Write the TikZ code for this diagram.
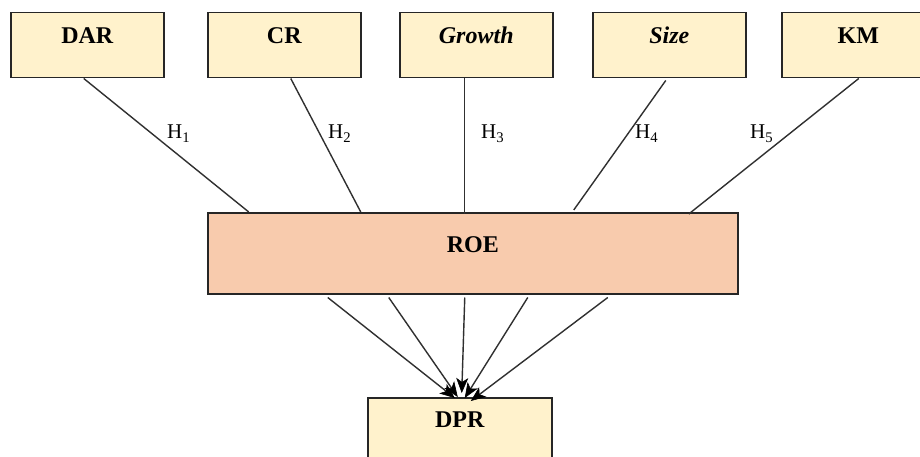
\documentclass[tikz,border=0pt]{standalone}
\usepackage{fontspec}
\setmainfont{Liberation Serif}
\usetikzlibrary{arrows.meta,calc}
\definecolor{boxyellow}{HTML}{FFF2CC}
\definecolor{boxorange}{HTML}{F8CBAD}
\definecolor{edge}{HTML}{262626}
\definecolor{linec}{HTML}{303030}
\tikzset{
  varbox/.style={draw=edge, line width=1.5pt, fill=boxyellow, inner sep=0pt,
    minimum width=153pt, minimum height=65pt, text height=31pt, text depth=34pt,
    anchor=north west, font=\fontsize{24}{27}\selectfont\bfseries},
  roebox/.style={draw=edge, line width=1.5pt, fill=boxorange, inner sep=0pt,
    minimum width=530pt, minimum height=81pt, text height=40pt, text depth=41pt,
    anchor=north west, font=\fontsize{24}{27}\selectfont\bfseries},
  dprbox/.style={draw=edge, line width=1.5pt, fill=boxyellow, inner sep=0pt,
    minimum width=184pt, minimum height=65pt, text height=30pt, text depth=35pt,
    anchor=north west, font=\fontsize{24}{27}\selectfont\bfseries},
  hlab/.style={anchor=base west, inner sep=0pt, font=\fontsize{21}{24}\selectfont},
  link/.style={draw=linec, line width=1.4pt},
  arr/.style={draw=linec, line width=1.4pt,
    -{Stealth[length=15pt,width=12pt,inset=4pt,color=black,fill=black,line width=0.6pt]}},
}
\begin{document}
\begin{tikzpicture}[x=1pt,y=-1pt]
\useasboundingbox (0,0) rectangle (920,457);
\fill[white] (0,0) rectangle (920,457);
\node[varbox] (dar) at (10,12) {DAR};
\node[varbox] (cr) at (207,12) {CR};
\node[varbox] (gro) at (399,12) {\itshape Growth};
\node[varbox] (siz) at (592,12) {\itshape Size};
\node[varbox] (km) at (781,12) {KM};
\node[roebox] (roe) at (207,212) {ROE};
\node[dprbox] (dpr) at (367,397) {DPR};
% links from predictors to ROE
\draw[link] ([xshift=-3.5pt]dar.south) -- ([xshift=-224pt]roe.north);
\draw[link] ([xshift=6.5pt]cr.south) -- ([xshift=-112pt]roe.north);
\draw[link] ([xshift=-11.5pt]gro.south) -- ([xshift=-8pt,yshift=-2pt]roe.north);
\draw[link] ([xshift=-3.5pt,yshift=-2pt]siz.south) -- ([xshift=101pt,yshift=2pt]roe.north);
\draw[link] ([xshift=0.5pt]km.south) -- ([xshift=216pt,yshift=-2pt]roe.north);
% arrows from ROE to DPR
\draw[arr] ([xshift=-145pt,yshift=-3pt]roe.south) -- ([xshift=-5pt,yshift=-1pt]dpr.north);
\draw[arr] ([xshift=-84pt,yshift=-3pt]roe.south) -- ([xshift=-2pt,yshift=0pt]dpr.north);
\draw[arr] ([xshift=-8pt,yshift=-3pt]roe.south) -- ([xshift=2pt,yshift=4pt]dpr.north);
\draw[arr] ([xshift=55pt,yshift=-3pt]roe.south) -- ([xshift=5pt,yshift=-1pt]dpr.north);
\draw[arr] ([xshift=135pt,yshift=-3pt]roe.south) -- ([xshift=11pt,yshift=-4pt]dpr.north);
% hypothesis labels
\node[hlab] (h1) at (167,139) {H\textsubscript{1}};
\node[hlab] (h2) at (328,139) {H\textsubscript{2}};
\node[hlab] (h3) at (481,139) {H\textsubscript{3}};
\node[hlab] (h4) at (635,139) {H\textsubscript{4}};
\node[hlab] (h5) at (750,139) {H\textsubscript{5}};
\end{tikzpicture}
\end{document}
